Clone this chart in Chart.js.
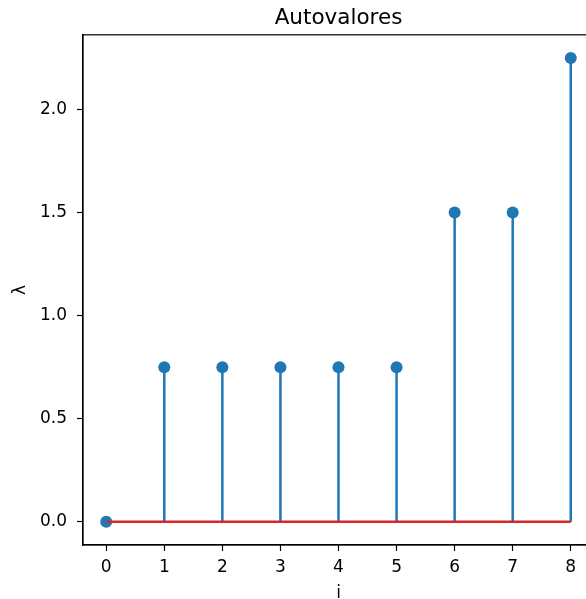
<!DOCTYPE html>
<html>
<head>
<meta charset="utf-8">
<script src="https://cdn.jsdelivr.net/npm/chart.js@4/dist/chart.umd.min.js"></script>
<style>
  html, body { margin: 0; padding: 0; background: #fff; overflow: hidden; }
  #wrap { position: absolute; left: 0; top: 0; }
</style>
</head>
<body>
<div id="wrap"><canvas id="stem" width="600" height="606"></canvas></div>
<script>
// eigenvalues, one per index
const indices = [0, 1, 2, 3, 4, 5, 6, 7, 8];
const eigenvalues = [0, 0.75, 0.75, 0.75, 0.75, 0.75, 1.5, 1.5, 2.25];
const xTicks = [0, 1, 2, 3, 4, 5, 6, 7, 8];
const yTicks = [0, 0.5, 1.0, 1.5, 2.0];

const STEM_BLUE = '#1f77b4';
const BASE_RED = '#d62728';
const FONT = "'DejaVu Sans', sans-serif";

// stem lines: (i,0)->(i,v) with a gap between each
let stemPoints = [];
indices.forEach(function(x, i){
    stemPoints.push({x: x, y: 0});
    stemPoints.push({x: x, y: eigenvalues[i]});
    stemPoints.push({x: x, y: null});
});

const markerPoints = indices.map(function(x, i){ return {x: x, y: eigenvalues[i]}; });
const basePoints = [{x: indices[0], y: 0}, {x: indices[indices.length - 1], y: 0}];

// matplotlib-like box around the axes
const frame = {
    id: 'frame',
    afterDraw: function(chart){
        const a = chart.chartArea;
        const ctx = chart.ctx;
        ctx.save();
        ctx.strokeStyle = '#000';
        ctx.lineWidth = 1.2;
        ctx.strokeRect(a.left, a.top, a.right - a.left, a.bottom - a.top);
        ctx.restore();
    }
};

new Chart(document.getElementById('stem').getContext('2d'), {
    type: 'line',
    data: {
        datasets: [
            {
                label: 'baseline',
                data: basePoints,
                borderColor: BASE_RED,
                borderWidth: 2.5,
                pointRadius: 0,
                order: 0
            },
            {
                label: 'markers',
                data: markerPoints,
                showLine: false,
                pointRadius: 6,
                pointBackgroundColor: STEM_BLUE,
                pointBorderWidth: 0,
                borderColor: STEM_BLUE,
                order: 1
            },
            {
                label: 'stems',
                data: stemPoints,
                borderColor: STEM_BLUE,
                borderWidth: 2.5,
                pointRadius: 0,
                spanGaps: false,
                order: 2
            }
        ]
    },
    options: {
        responsive: false,
        animation: false,
        layout: { padding: 0 },
        plugins: {
            legend: { display: false },
            tooltip: { enabled: false },
            title: {
                display: true,
                fullSize: false,
                text: 'Autovalores',
                color: '#000',
                font: { family: FONT, size: 21.5, weight: 'normal' },
                padding: { top: 6, bottom: 3 }
            }
        },
        scales: {
            x: {
                type: 'linear',
                min: -0.4,
                max: 8.4,
                afterBuildTicks: function(scale){ scale.ticks = xTicks.map(function(v){ return {value: v}; }); },
                afterFit: function(scale){ scale.height = 61; },
                grid: { drawOnChartArea: false, tickLength: 6, tickColor: '#000', tickWidth: 1.2 },
                border: { display: true, color: '#000', width: 1.2 },
                ticks: {
                    color: '#000',
                    padding: 6,
                    maxRotation: 0,
                    autoSkip: false,
                    font: { family: FONT, size: 17 },
                    callback: function(v){ return String(v); }
                },
                title: {
                    display: true,
                    text: 'i',
                    color: '#000',
                    font: { family: FONT, size: 17 },
                    padding: { top: 0, bottom: 2 }
                }
            },
            y: {
                min: -0.1125,
                max: 2.3625,
                afterBuildTicks: function(scale){ scale.ticks = yTicks.map(function(v){ return {value: v}; }); },
                afterFit: function(scale){ scale.width = 83; },
                grid: { drawOnChartArea: false, tickLength: 6, tickColor: '#000', tickWidth: 1.2 },
                border: { display: true, color: '#000', width: 1.2 },
                ticks: {
                    color: '#000',
                    padding: 10,
                    autoSkip: false,
                    font: { family: FONT, size: 17 },
                    callback: function(v){ return Number(v).toFixed(1); }
                },
                title: {
                    display: true,
                    text: 'λ',
                    color: '#000',
                    font: { family: FONT, size: 17 },
                    padding: { top: 10, bottom: 0 }
                }
            }
        }
    },
    plugins: [frame]
});
</script>
</body>
</html>
